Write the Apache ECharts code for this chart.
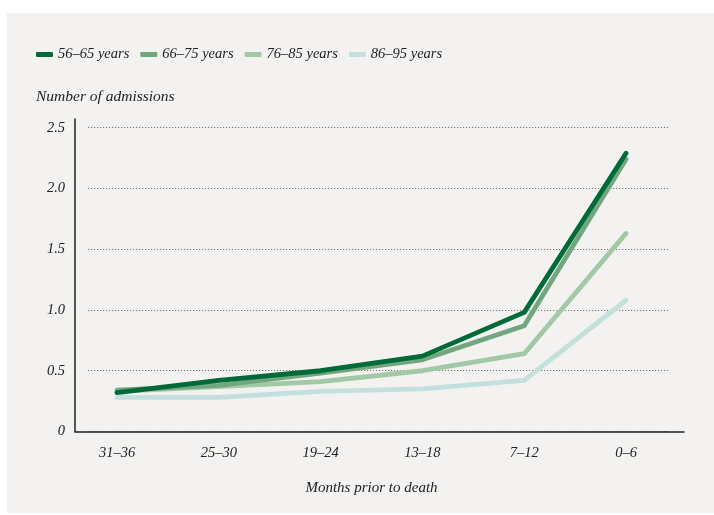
<!DOCTYPE html>
<html><head><meta charset="utf-8">
<script src="https://cdn.jsdelivr.net/npm/echarts@6/dist/echarts.min.js"></script>
<style>html,body{margin:0;padding:0;background:#fff}#c{width:714px;height:515px}</style>
</head><body><div id="c"></div>
<script>
const categories = ['31–36','25–30','19–24','13–18','7–12','0–6'];
const s56 = [0.32, 0.42, 0.50, 0.62, 0.98, 2.29];
const s66 = [0.34, 0.38, 0.48, 0.59, 0.87, 2.24];
const s76 = [0.33, 0.37, 0.41, 0.50, 0.64, 1.63];
const s86 = [0.28, 0.28, 0.33, 0.35, 0.42, 1.08];
const seriesNames = ['56–65 years','66–75 years','76–85 years','86–95 years'];
const colors = ['#006b38','#72a67e','#a2c8a6','#c3e1dc'];
const yTicks = [0, 0.5, 1.0, 1.5, 2.0, 2.5];

const font = 'Liberation Serif';
const chart = echarts.init(document.getElementById('c'));
const data = [s56, s66, s76, s86];
chart.setOption({
  animation: false,
  backgroundColor: '#ffffff',
  color: colors,
  graphic: [{type:'rect', z:-10, shape:{x:7,y:13,width:707,height:500}, style:{fill:'#f3f2f0'}}],
  textStyle: {fontFamily: font},
  legend: {
    left: 31, top: 42, icon: 'roundRect', itemWidth: 17, itemHeight: 5, itemGap: 11,
    textStyle: {fontFamily: font, fontStyle: 'italic', fontSize: 14.5, color: '#222'},
    data: seriesNames
  },
  title: {text: 'Number of admissions', left: 31, top: 84,
    textStyle: {fontFamily: font, fontStyle: 'italic', fontWeight: 'normal', fontSize: 15.5, color: '#222'}},
  grid: [
    {left: 117, right: 88, top: 127.7, bottom: 83.5},
    {left: 88, right: 44, top: 127.7, bottom: 83.5},
    {left: 75, right: 30, top: 119, bottom: 83.5}
  ],
  xAxis: [
    {gridIndex: 0, type: 'category', data: categories, boundaryGap: false,
     axisLine: {show: false}, axisTick: {show: false},
     axisLabel: {margin: 14, fontFamily: font, fontStyle: 'italic', fontSize: 14.5, color: '#222'},
     name: 'Months prior to death', nameLocation: 'middle', nameGap: 49,
     nameTextStyle: {fontFamily: font, fontStyle: 'italic', fontSize: 15, color: '#222'}},
    {gridIndex: 1, type: 'value', show: false},
    {gridIndex: 2, type: 'value', axisLine: {show: true, onZero: false, lineStyle: {color: '#222', width: 1.5}},
     axisTick: {show: false}, axisLabel: {show: false}, splitLine: {show: false}}
  ],
  yAxis: [
    {gridIndex: 0, type: 'value', min: 0, max: 2.5, interval: 0.5, show: false},
    {gridIndex: 1, type: 'value', min: 0, max: 2.5, interval: 0.5,
     axisLine: {show: false}, axisTick: {show: false},
     axisLabel: {margin: 23, fontFamily: font, fontStyle: 'italic', fontSize: 14.5, color: '#222',
       formatter: v => (yTicks.indexOf(v) >= 0 ? (v === 0 ? '0' : v.toFixed(1)) : '')},
     splitLine: {show: true, lineStyle: {type: [1.2, 1.8], color: '#777', width: 1}}},
    {gridIndex: 2, type: 'value', min: 0, max: 1, axisLine: {show: true, lineStyle: {color: '#222', width: 1.5}},
     axisTick: {show: false}, axisLabel: {show: false}, splitLine: {show: false}}
  ],
  series: data.map((d, i) => ({
    name: seriesNames[i], type: 'line', xAxisIndex: 0, yAxisIndex: 0, data: d,
    symbol: 'none', z: 10 - i,
    lineStyle: {width: 4.8, color: colors[i], cap: 'round', join: 'round'},
    itemStyle: {color: colors[i]}
  }))
});
</script></body></html>
